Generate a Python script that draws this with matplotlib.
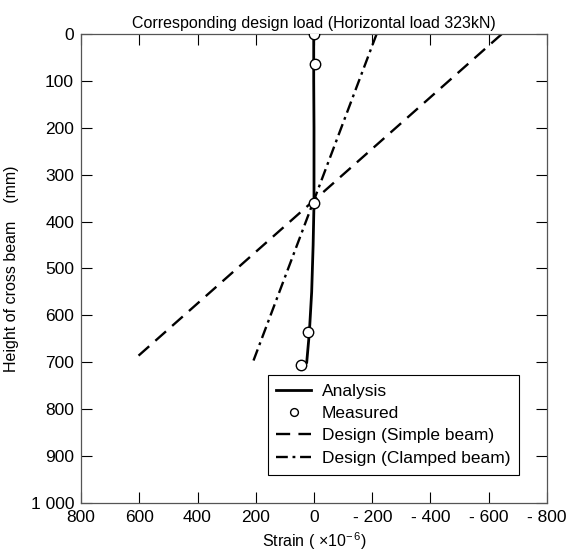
import numpy as np
import matplotlib.pyplot as plt

plt.rcParams['font.family'] = ['Liberation Sans', 'DejaVu Sans']
plt.rcParams['mathtext.fontset'] = 'custom'
plt.rcParams['mathtext.rm'] = 'Liberation Sans'

# strain (x10^-6) vs height of cross beam (mm)
analysis_height = [0, 100, 200, 300, 360, 450, 550, 637, 700]
analysis_strain = [1, 1, 0, 0, 0, 3, 8, 16, 25]

measured_height = [0, 65, 360, 635, 705]
measured_strain = [0, -3, 0, 20, 46]

simple_height = [0, 690]
simple_strain = [-645, 610]

clamped_height = [0, 700]
clamped_strain = [-215, 210]

xticks = [800, 600, 400, 200, 0, -200, -400, -600, -800]
xticklabels = ['800', '600', '400', '200', '0', '- 200', '- 400', '- 600', '- 800']
yticks = [0, 100, 200, 300, 400, 500, 600, 700, 800, 900, 1000]
yticklabels = ['0', '100', '200', '300', '400', '500', '600', '700', '800', '900', '1 000']

fig = plt.figure(figsize=(5.77, 5.59), dpi=100)
ax = fig.add_axes([0.1404, 0.1002, 0.8076, 0.8390])

ax.plot(analysis_strain, analysis_height, color='black', lw=2.0, label='Analysis')
ax.plot(measured_strain, measured_height, 'o', ms=7.5, mfc='white', mec='black',
        mew=1.0, label='Measured', zorder=5)
ax.plot(simple_strain, simple_height, color='black', lw=1.7, dashes=(6, 3.5),
        label='Design (Simple beam)')
ax.plot(clamped_strain, clamped_height, color='black', lw=1.7,
        dashes=(5, 2, 1.2, 2), label='Design (Clamped beam)')

ax.set_xlim(800, -800)
ax.set_ylim(1000, 0)
ax.set_xticks(xticks)
ax.set_xticklabels(xticklabels)
ax.set_yticks(yticks)
ax.set_yticklabels(yticklabels)
ax.tick_params(direction='in', length=8, width=0.8, top=True, right=True,
               labelsize=12.5, pad=5, colors='black')
for s in ax.spines.values():
    s.set_color('#555555')
    s.set_linewidth(0.9)

ax.set_title('Corresponding design load (Horizontal load 323kN)', fontsize=11.5, pad=4)
ax.set_xlabel('Strain ( $\\times$10$^{\\mathrm{-}\\,6}$)', fontsize=11.5, labelpad=4)
ax.set_ylabel('Height of cross beam    (mm)', fontsize=11.5, labelpad=8)

leg = ax.legend(loc='lower right', bbox_to_anchor=(0.958, 0.042), fontsize=12.5,
                handlelength=2.0, handletextpad=0.6, borderpad=0.5, labelspacing=0.42,
                fancybox=False, framealpha=1, edgecolor='black', markerscale=0.75)
leg.get_frame().set_linewidth(0.8)

fig.savefig('out.png', dpi=100)
